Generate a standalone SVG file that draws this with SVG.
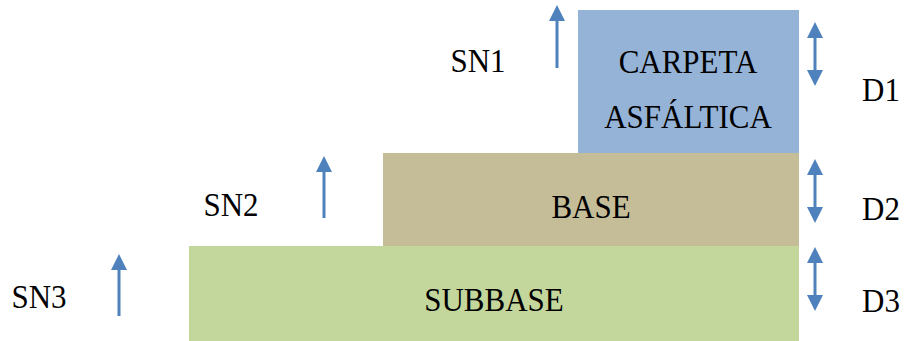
<svg xmlns="http://www.w3.org/2000/svg" width="905" height="341" viewBox="0 0 905 341">
  <style>
    text { font-family: 'Liberation Serif', 'DejaVu Serif', serif; font-size: 31px; fill: #000; text-anchor: middle; }
    .arr { stroke: #4F81BD; stroke-width: 3; fill: none; }
  </style>
  <defs>
    <marker id="head" markerUnits="userSpaceOnUse" markerWidth="16" markerHeight="16" refX="0" refY="8" orient="auto-start-reverse">
      <path d="M0,0 L16,8 L0,16 Z" fill="#4F81BD"/>
    </marker>
  </defs>
  <rect width="905" height="341" fill="#fff"/>

  <g font-family="'Liberation Serif', 'DejaVu Serif', serif">
    <!-- pavement layers -->
    <g id="carpeta">
      <rect x="578" y="10" width="221" height="143" fill="#95B3D7"/>
      <text transform="translate(688,73) scale(1,1.12)">CARPETA</text>
      <text transform="translate(688,128) scale(1,1.12)">ASFÁLTICA</text>
    </g>
    <g id="base">
      <rect x="383" y="153" width="416" height="93" fill="#C4BD97"/>
      <text transform="translate(591,218) scale(1,1.12)">BASE</text>
    </g>
    <g id="subbase">
      <rect x="189" y="246" width="610" height="95" fill="#C3D69B"/>
      <text transform="translate(494,311) scale(1,1.12)">SUBBASE</text>
    </g>

    <!-- structural number and thickness labels -->
    <g id="sn1"><text transform="translate(478,72) scale(1,1.12)">SN1</text></g>
    <g id="sn2"><text transform="translate(231,216) scale(1,1.12)">SN2</text></g>
    <g id="sn3"><text transform="translate(39,308) scale(1,1.12)">SN3</text></g>
    <g id="d1"><text transform="translate(881,101) scale(1,1.12)">D1</text></g>
    <g id="d2"><text transform="translate(881,220) scale(1,1.12)">D2</text></g>
    <g id="d3"><text transform="translate(881,312) scale(1,1.12)">D3</text></g>
  </g>

  <!-- arrows -->
  <g id="connectors">
    <line class="arr" x1="557" y1="68" x2="557" y2="21" marker-end="url(#head)"/>
    <line class="arr" x1="324" y1="218" x2="324" y2="172" marker-end="url(#head)"/>
    <line class="arr" x1="119" y1="316" x2="119" y2="270" marker-end="url(#head)"/>
    <line class="arr" x1="815" y1="38" x2="815" y2="70" marker-start="url(#head)" marker-end="url(#head)"/>
    <line class="arr" x1="815" y1="175" x2="815" y2="207" marker-start="url(#head)" marker-end="url(#head)"/>
    <line class="arr" x1="815" y1="263" x2="815" y2="295" marker-start="url(#head)" marker-end="url(#head)"/>
  </g>
</svg>
